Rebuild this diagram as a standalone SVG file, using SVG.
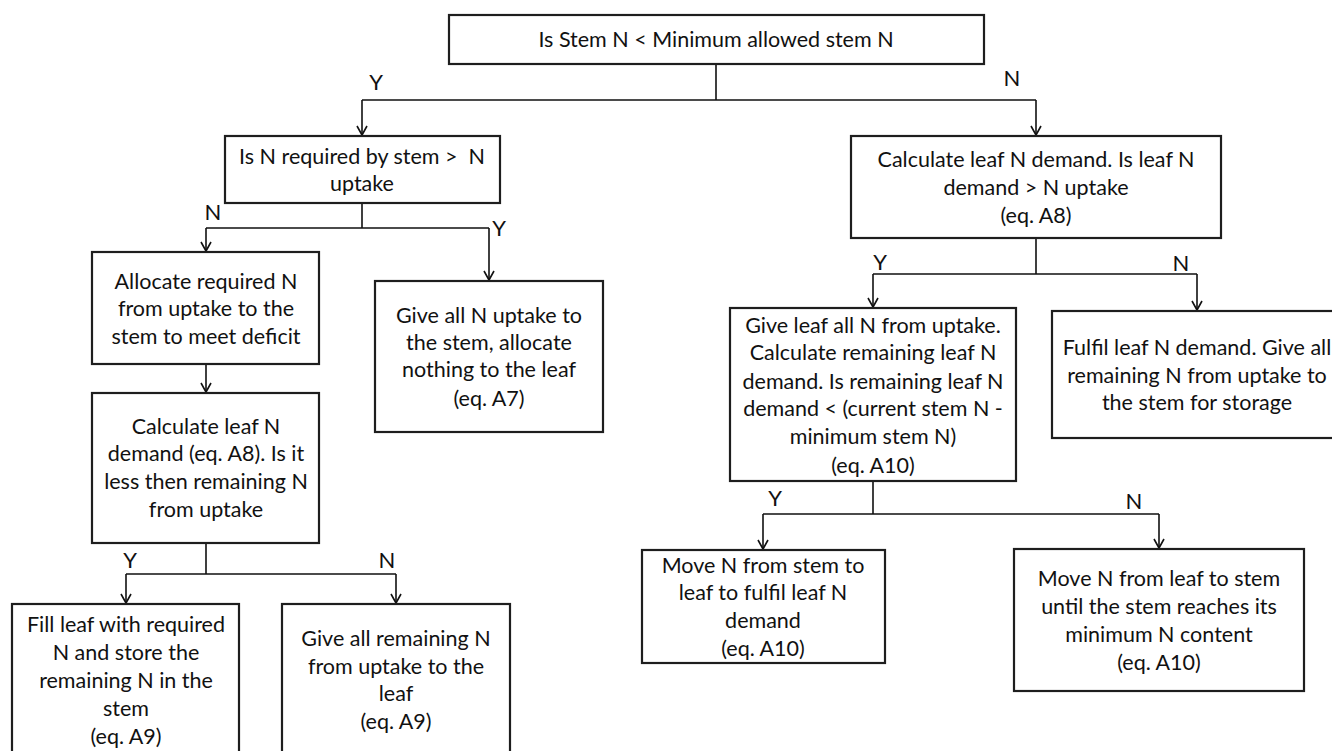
<svg xmlns="http://www.w3.org/2000/svg" width="1332" height="751" viewBox="0 0 1332 751">
<defs>
<marker id="arr" markerWidth="12" markerHeight="14" refX="10" refY="6" orient="auto" markerUnits="userSpaceOnUse" viewBox="0 0 12 12">
<path d="M1,1 L10,6 L1,11" fill="none" stroke="#111" stroke-width="1.6"/>
</marker>
<style>
.box{fill:#fff;stroke:#1e1e1e;stroke-width:2.2}
.t{font-family:Lato,"Open Sans","Liberation Sans",sans-serif;font-size:21.5px;fill:#111;text-anchor:middle}
.c{fill:none;stroke:#111;stroke-width:1.6}
.lbl{font-family:Lato,"Open Sans","Liberation Sans",sans-serif;font-size:22px;fill:#111;text-anchor:middle}
</style>
</defs>
<rect width="1332" height="751" fill="#fff"/>
<g id="connectors">
<path class="c" d="M716,64 V100 M362,100 H1036"/>
<path class="c" d="M362,100 V135" marker-end="url(#arr)"/>
<path class="c" d="M1036,100 V135" marker-end="url(#arr)"/>
<path class="c" d="M362,203 V228 M206,228 H489"/>
<path class="c" d="M206,228 V251" marker-end="url(#arr)"/>
<path class="c" d="M489,228 V280" marker-end="url(#arr)"/>
<path class="c" d="M206,364 V392" marker-end="url(#arr)"/>
<path class="c" d="M206,543 V574 M126,574 H396"/>
<path class="c" d="M126,574 V603" marker-end="url(#arr)"/>
<path class="c" d="M396,574 V603" marker-end="url(#arr)"/>
<path class="c" d="M1036,238 V274 M873,274 H1197"/>
<path class="c" d="M873,274 V307" marker-end="url(#arr)"/>
<path class="c" d="M1197,274 V310" marker-end="url(#arr)"/>
<path class="c" d="M873,481 V514 M763,514 H1159"/>
<path class="c" d="M763,514 V549" marker-end="url(#arr)"/>
<path class="c" d="M1159,514 V548" marker-end="url(#arr)"/>
<text class="lbl" x="376" y="90">Y</text>
<text class="lbl" x="1012" y="86">N</text>
<text class="lbl" x="213" y="220">N</text>
<text class="lbl" x="499" y="236">Y</text>
<text class="lbl" x="130" y="568">Y</text>
<text class="lbl" x="387" y="568">N</text>
<text class="lbl" x="880" y="270">Y</text>
<text class="lbl" x="1181" y="271">N</text>
<text class="lbl" x="775" y="506">Y</text>
<text class="lbl" x="1134" y="509">N</text>
</g>
<g id="n0">
<rect class="box" x="449" y="15" width="535" height="49"/>
<text class="t" x="716" y="47">Is Stem N &lt; Minimum allowed stem N</text>
</g>
<g id="n1">
<rect class="box" x="225" y="136" width="275" height="67"/>
<text class="t" x="362" y="164" xml:space="preserve">Is N required by stem &gt;  N</text>
<text class="t" x="362" y="191">uptake</text>
</g>
<g id="n2">
<rect class="box" x="92" y="252" width="227" height="112"/>
<text class="t" x="206" y="289">Allocate required N</text>
<text class="t" x="206" y="316">from uptake to the</text>
<text class="t" x="206" y="344">stem to meet deficit</text>
</g>
<g id="n3">
<rect class="box" x="375" y="281" width="228" height="151"/>
<text class="t" x="489" y="323">Give all N uptake to</text>
<text class="t" x="489" y="350">the stem, allocate</text>
<text class="t" x="489" y="377">nothing to the leaf</text>
<text class="t" x="489" y="406">(eq. A7)</text>
</g>
<g id="n4">
<rect class="box" x="92" y="393" width="227" height="150"/>
<text class="t" x="206" y="434">Calculate leaf N</text>
<text class="t" x="206" y="461">demand (eq. A8). Is it</text>
<text class="t" x="206" y="489">less then remaining N</text>
<text class="t" x="206" y="517">from uptake</text>
</g>
<g id="n5">
<rect class="box" x="12" y="604" width="227" height="160"/>
<text class="t" x="126" y="632">Fill leaf with required</text>
<text class="t" x="126" y="660">N and store the</text>
<text class="t" x="126" y="688">remaining N in the</text>
<text class="t" x="126" y="716">stem</text>
<text class="t" x="126" y="744">(eq. A9)</text>
</g>
<g id="n6">
<rect class="box" x="282" y="604" width="228" height="160"/>
<text class="t" x="396" y="646">Give all remaining N</text>
<text class="t" x="396" y="674">from uptake to the</text>
<text class="t" x="396" y="701">leaf</text>
<text class="t" x="396" y="729">(eq. A9)</text>
</g>
<g id="n7">
<rect class="box" x="851" y="136" width="370" height="102"/>
<text class="t" x="1036" y="167">Calculate leaf N demand. Is leaf N</text>
<text class="t" x="1036" y="195">demand &gt; N uptake</text>
<text class="t" x="1036" y="223">(eq. A8)</text>
</g>
<g id="n8">
<rect class="box" x="730" y="308" width="286" height="173"/>
<text class="t" x="873" y="333">Give leaf all N from uptake.</text>
<text class="t" x="873" y="360">Calculate remaining leaf N</text>
<text class="t" x="873" y="389">demand. Is remaining leaf N</text>
<text class="t" x="873" y="416">demand &lt; (current stem N -</text>
<text class="t" x="873" y="444">minimum stem N)</text>
<text class="t" x="873" y="473">(eq. A10)</text>
</g>
<g id="n9">
<rect class="box" x="1052" y="311" width="300" height="127"/>
<text class="t" x="1197" y="355">Fulfil leaf N demand. Give all</text>
<text class="t" x="1197" y="383">remaining N from uptake to</text>
<text class="t" x="1197" y="410">the stem for storage</text>
</g>
<g id="n10">
<rect class="box" x="642" y="550" width="243" height="113"/>
<text class="t" x="763" y="573">Move N from stem to</text>
<text class="t" x="763" y="600">leaf to fulfil leaf N</text>
<text class="t" x="763" y="628">demand</text>
<text class="t" x="763" y="656">(eq. A10)</text>
</g>
<g id="n11">
<rect class="box" x="1014" y="549" width="290" height="142"/>
<text class="t" x="1159" y="586">Move N from leaf to stem</text>
<text class="t" x="1159" y="614">until the stem reaches its</text>
<text class="t" x="1159" y="642">minimum N content</text>
<text class="t" x="1159" y="670">(eq. A10)</text>
</g>
</svg>
